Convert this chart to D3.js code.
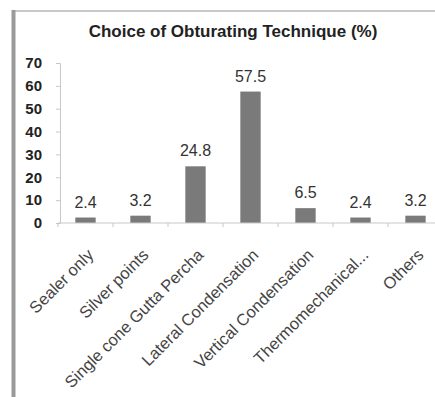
<!DOCTYPE html>
<html lang='en'>
<head>
  <meta charset='UTF-8'>
  <title>Choice of Obturating Technique</title>
  <style>
    * { margin: 0; padding: 0; }
    body { background: #fff; }
    #chart { width: 435px; height: 397px; overflow: hidden; }
  </style>
</head>
<body>
<script src='https://cdn.jsdelivr.net/npm/d3@7/dist/d3.min.js'></script>
<div id='chart'></div>
<script>
  const categories = ['Sealer only', 'Silver points', 'Single cone Gutta Percha', 'Lateral Condensation',
    'Vertical Condensation', 'Thermomechanical...', 'Others']
  const values = [2.4, 3.2, 24.8, 57.5, 6.5, 2.4, 3.2]
  const yTicks = [0, 10, 20, 30, 40, 50, 60, 70]

  let width = 435
  let height = 397
  let margin = {top: 63, right: -8, bottom: 174, left: 58}

  let svg = d3.select('#chart')
  .append('svg')
  .attr('width', width)
  .attr('height', height)
  .style('font-family', 'Liberation Sans, Arial, sans-serif')

  // frame
  svg.append('rect').attr('width', width).attr('height', height).attr('fill', '#fff')
  svg.append('line').attr('x1', 12).attr('x2', width).attr('y1', 11).attr('y2', 11)
  .attr('stroke', '#c8c8c8').attr('stroke-width', 2)
  svg.append('line').attr('x1', 13.5).attr('x2', 13.5).attr('y1', 10).attr('y2', height)
  .attr('stroke', '#9a9a9a').attr('stroke-width', 4)

  svg.append('text')
  .attr('x', 233).attr('y', 37)
  .attr('text-anchor', 'middle')
  .attr('font-weight', 'bold')
  .attr('font-size', 17)
  .attr('fill', '#222')
  .text('Choice of Obturating Technique (%)')

  let x = d3.scaleBand()
  .domain(categories)
  .range([margin.left, width - margin.right])
  .paddingInner(0.63)
  .paddingOuter(0.315)
  let y = d3.scaleLinear()
  .domain([0, 70])
  .range([height - margin.bottom, margin.top])

  // y axis
  let yAxis = svg.append('g')
  .attr('transform', 'translate(' + (margin.left + 2) + ',0)')
  .call(d3.axisLeft(y).tickValues(yTicks).tickSize(4).tickPadding(14))
  yAxis.select('.domain').attr('stroke', '#c8c8c8')
  yAxis.selectAll('.tick line').attr('stroke', '#c8c8c8')
  yAxis.selectAll('text').attr('font-size', 15).attr('fill', '#222').attr('font-weight', 'bold')

  // bars
  svg.append('g').selectAll('rect')
  .data(values)
  .join('rect')
  .attr('x', (d, i) => x(categories[i]))
  .attr('y', d => y(d))
  .attr('width', x.bandwidth())
  .attr('height', d => y(0) - y(d))
  .attr('fill', '#7a7a7a')

  // value labels
  svg.append('g').selectAll('text')
  .data(values)
  .join('text')
  .attr('x', (d, i) => x(categories[i]) + x.bandwidth() / 2)
  .attr('y', d => y(d) - 10)
  .attr('text-anchor', 'middle')
  .attr('font-size', 16)
  .attr('fill', '#333')
  .text(d => d)

  // x axis
  let step = x.step()
  let xAxis = svg.append('g')
  .attr('transform', 'translate(0,' + y(0) + ')')
  xAxis.append('line')
  .attr('x1', margin.left).attr('x2', width)
  .attr('stroke', '#c8c8c8')
  xAxis.selectAll('.sep')
  .data(categories)
  .join('line')
  .attr('class', 'sep')
  .attr('x1', d => x(d) - step * 0.315).attr('x2', d => x(d) - step * 0.315)
  .attr('y1', 0).attr('y2', 4)
  .attr('stroke', '#c8c8c8')
  xAxis.selectAll('.lbl')
  .data(categories)
  .join('text')
  .attr('class', 'lbl')
  .attr('text-anchor', 'end')
  .attr('font-size', 16.5)
  .attr('fill', '#444')
  .attr('transform', d => 'translate(' + (x(d) + x.bandwidth() / 2 + 9) + ',33) rotate(-45)')
  .text(d => d)
</script>
</body>
</html>
